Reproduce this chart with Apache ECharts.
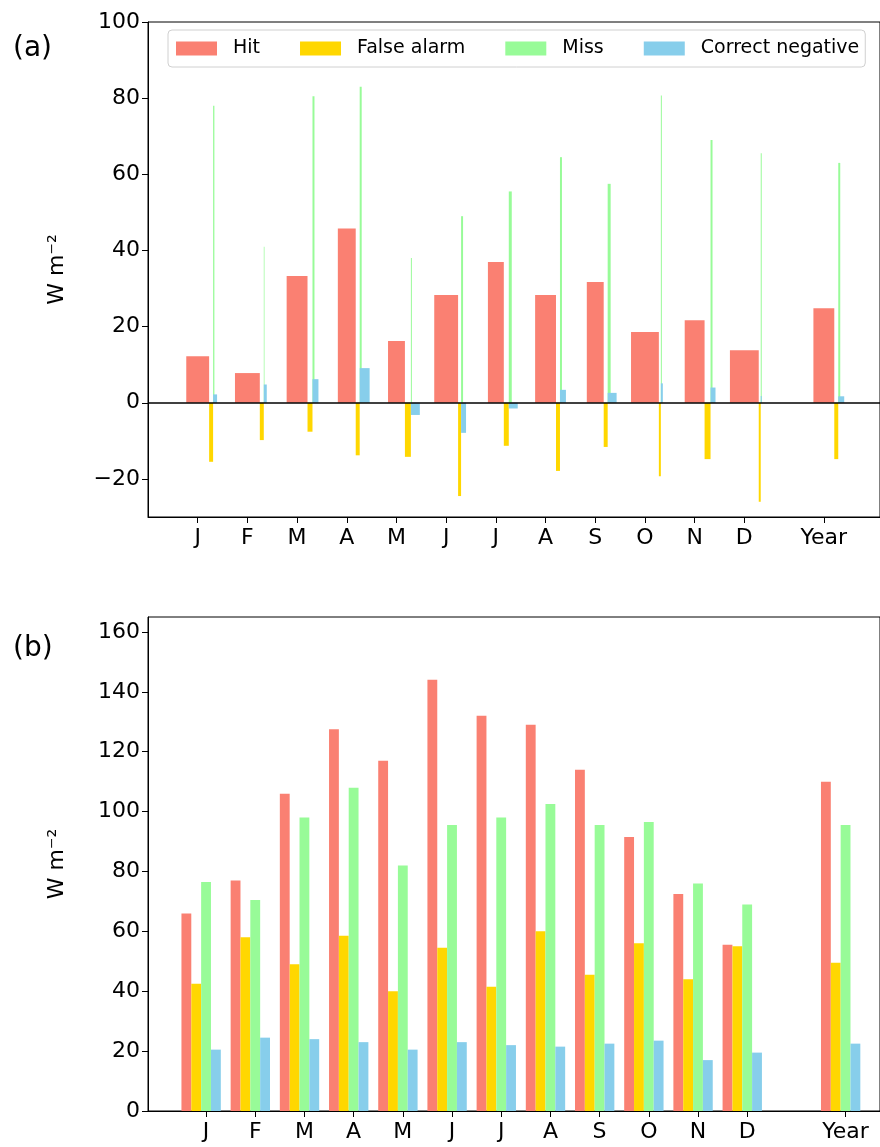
<!DOCTYPE html>
<html>
<head>
<meta charset="utf-8">
<script src="https://cdn.jsdelivr.net/npm/echarts@6/dist/echarts.min.js"></script>
<style>html,body{margin:0;padding:0;background:#fff}#main{width:880px;height:1147px}</style>
</head>
<body>
<div id="main"></div>
<script>
// categories and positions on the x axis
const months = ["J","F","M","A","M","J","J","A","S","O","N","D","Year"];
const posA = [1,2,3,4,5,6,7,8,9,10,11,12,13.6];
const posB = [1,2,3,4,5,6,7,8,9,10,11,12,14];

// panel (a): mean values and bar widths (widths read in axis units)
const hitA  = [12.2,7.8,33.3,45.8,16.2,28.3,37.0,28.3,31.7,18.6,21.7,13.8,24.8];
const faA   = [-15.5,-9.8,-7.6,-13.8,-14.2,-24.5,-11.3,-17.9,-11.6,-19.3,-14.8,-26.0,-14.8];
const missA = [78.0,41.0,80.5,83.0,38.0,49.0,55.5,64.5,57.5,80.7,69.0,65.5,63.0];
const cnA   = [2.2,4.8,6.2,9.1,-3.2,-7.9,-1.5,3.4,2.6,5.1,4.0,1.8,1.7];
const wHit  = [0.46,0.50,0.42,0.36,0.34,0.48,0.32,0.42,0.34,0.56,0.40,0.58,0.42];
const wFa   = [0.08,0.08,0.10,0.08,0.12,0.06,0.10,0.08,0.08,0.04,0.12,0.04,0.08];
const wMiss = [0.026,0.014,0.04,0.04,0.02,0.04,0.06,0.04,0.06,0.02,0.04,0.02,0.04];
const wCn   = [0.08,0.06,0.12,0.20,0.18,0.10,0.18,0.12,0.18,0.04,0.10,0.02,0.12];

// panel (b)
const hitB  = [66,77,106,127.5,117,144,132,129,114,91.5,72.5,55.5,110];
const faB   = [42.5,58,49,58.5,40,54.5,41.5,60,45.5,56,44,55,49.5];
const missB = [76.5,70.5,98,108,82,95.5,98,102.5,95.5,96.5,76,69,95.5];
const cnB   = [20.5,24.5,24,23,20.5,23,22,21.5,22.5,23.5,17,19.5,22.5];

const names = ["Hit","False alarm","Miss","Correct negative"];
const colors = ["#fa8072","#ffd700","#98fb98","#87ceeb"];
const FONT = "DejaVu Sans";

function rectItem(params, api){
  const x0 = api.value(0), w = api.value(1), v = api.value(2);
  const p0 = api.coord([x0, 0]);
  const p1 = api.coord([x0 + w, v]);
  return {type:"rect", shape:{x:p0[0], y:Math.min(p0[1],p1[1]), width:p1[0]-p0[0], height:Math.abs(p1[1]-p0[1])},
          style:{fill:api.visual("color")}};
}

// panel (a) bar layout: hit centred on tick, the others start at its right edge
const dataA = [[],[],[],[]];
posA.forEach((x,i)=>{
  const hl = x - wHit[i]/2, hr = x + wHit[i]/2;
  dataA[0].push([hl, wHit[i], hitA[i]]);
  dataA[1].push([hr, wFa[i], faA[i]]);
  dataA[2].push([hr + wFa[i], wMiss[i], missA[i]]);
  dataA[3].push([hr + wFa[i], wCn[i], cnA[i]]);
});
const valsB = [hitB, faB, missB, cnB];
const dataB = valsB.map((arr,k)=>posB.map((x,i)=>[x - 0.5 + 0.2*k, 0.2, arr[i]]));

const lineStyle = {show:true, onZero:false, lineStyle:{color:"#000"}};
function xAxis(grid, min, max, pos){
  return {
    type:"value", gridIndex:grid, min, max, splitLine:{show:false},
    axisLine:lineStyle,
    axisTick:{show:true, length:6, lineStyle:{color:"#000"}, customValues:pos},
    axisLabel:{color:"#000", fontSize:22, fontFamily:FONT, margin:10, customValues:pos,
      formatter:v=>{const i=pos.indexOf(v); return i>=0?months[i]:"";}}
  };
}
function yAxis(grid, min, max, ticks){
  return {
    type:"value", gridIndex:grid, min, max, splitLine:{show:false},
    axisLine:lineStyle,
    name:"W m\u207b\u00b2", nameLocation:"middle", nameGap:80,
    nameTextStyle:{color:"#000", fontSize:22, fontFamily:FONT},
    axisTick:{show:true, length:6, lineStyle:{color:"#000"}, customValues:ticks},
    axisLabel:{color:"#000", fontSize:22, fontFamily:FONT, margin:8, customValues:ticks,
      formatter:v=>v<0?"\u2212"+(-v):String(v)}
  };
}

const series = [];
[dataA, dataB].forEach((d,g)=>{
  d.forEach((arr,k)=>{
    const s = {type:"custom", name:names[k], xAxisIndex:g, yAxisIndex:g,
      itemStyle:{color:colors[k]}, renderItem:rectItem, data:arr,
      encode:{x:[0], y:[2]}, clip:true};
    if(g===0 && k===0){
      s.markLine = {silent:true, symbol:"none", label:{show:false},
        lineStyle:{color:"#000", width:1.5, type:"solid"}, data:[{yAxis:0}]};
    }
    series.push(s);
  });
});

const chart = echarts.init(document.getElementById("main"), null, {renderer:"canvas"});
chart.setOption({
  animation:false,
  backgroundColor:"#fff",
  textStyle:{fontFamily:FONT},
  title:[
    {text:"(a)", left:8, top:30, textStyle:{fontSize:28, fontWeight:"normal", color:"#000", fontFamily:FONT}},
    {text:"(b)", left:8, top:630, textStyle:{fontSize:28, fontWeight:"normal", color:"#000", fontFamily:FONT}}
  ],
  legend:{
    data:names, left:168, top:30, width:705, padding:[9,6,9,8], itemGap:40,
    itemWidth:41, itemHeight:14, icon:"rect",
    borderColor:"#d0d0d0", borderWidth:1, borderRadius:4,
    textStyle:{fontSize:19, color:"#000", fontFamily:FONT, padding:[0,0,0,11]}
  },
  grid:[
    {left:148, top:22, width:732, height:495, show:true, borderColor:"#000", borderWidth:1},
    {left:148, top:617, width:732, height:494, show:true, borderColor:"#000", borderWidth:1}
  ],
  xAxis:[xAxis(0, 0, 14.73, posA), xAxis(1, -0.18, 14.7, posB)],
  yAxis:[yAxis(0, -30, 100, [-20,0,20,40,60,80,100]), yAxis(1, 0, 165, [0,20,40,60,80,100,120,140,160])],
  series
});
</script>
</body>
</html>
